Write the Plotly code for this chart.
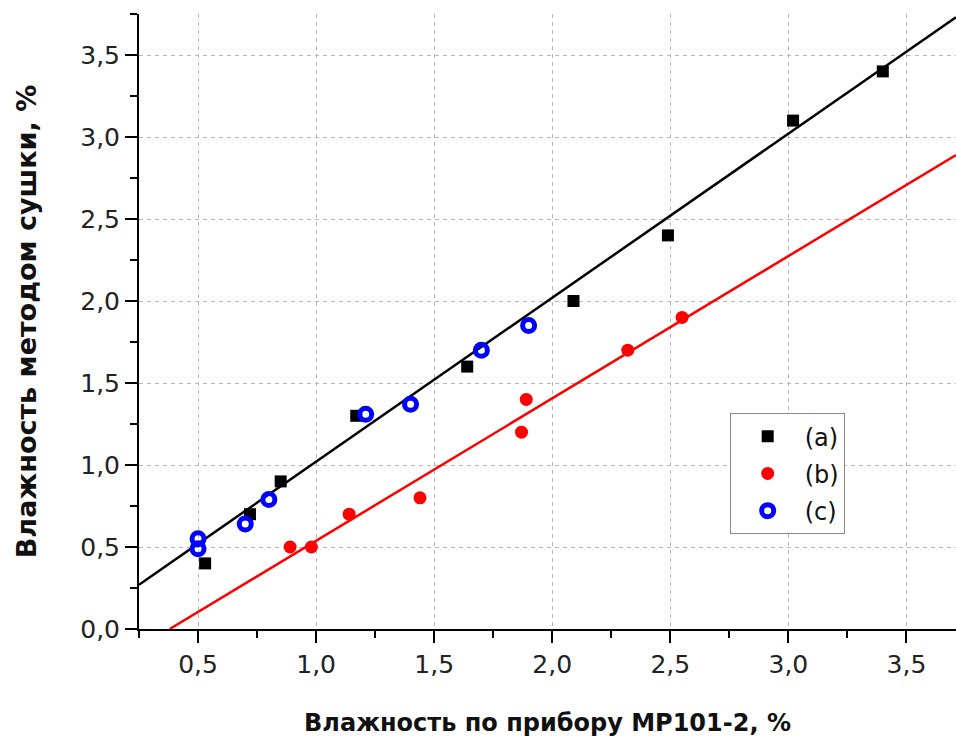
import plotly.graph_objects as go

# Series (a): black squares
a_x = [0.53, 0.72, 0.85, 1.17, 1.64, 2.09, 2.49, 3.02, 3.40]
a_y = [0.40, 0.70, 0.90, 1.30, 1.60, 2.00, 2.40, 3.10, 3.40]

# Series (b): red dots
b_x = [0.89, 0.98, 1.14, 1.44, 1.87, 1.89, 2.32, 2.55]
b_y = [0.50, 0.50, 0.70, 0.80, 1.20, 1.40, 1.70, 1.90]

# Series (c): blue open circles
c_x = [0.50, 0.50, 0.70, 0.80, 1.21, 1.40, 1.70, 1.90]
c_y = [0.55, 0.49, 0.64, 0.79, 1.31, 1.37, 1.70, 1.85]

# Fit lines (end points)
fit_a_x = [0.25, 3.71]
fit_a_y = [0.27, 3.73]
fit_b_x = [0.38, 3.71]
fit_b_y = [0.00, 2.89]

x_range = [0.25, 3.71]
y_range = [0.0, 3.75]

FONT = "DejaVu Sans, Arial, sans-serif"

fig = go.Figure()
fig.add_trace(go.Scatter(x=fit_a_x, y=fit_a_y, mode="lines",
                         line=dict(color="black", width=2.5), showlegend=False))
fig.add_trace(go.Scatter(x=fit_b_x, y=fit_b_y, mode="lines",
                         line=dict(color="#ff0000", width=2.5), showlegend=False))
fig.add_trace(go.Scatter(x=a_x, y=a_y, mode="markers", name="(a)", legendgroup="a",
                         marker=dict(symbol="square", size=12, color="black")))
fig.add_trace(go.Scatter(x=b_x, y=b_y, mode="markers", name="(b)", legendgroup="b",
                         marker=dict(symbol="circle", size=13, color="#ff0000")))
fig.add_trace(go.Scatter(x=c_x, y=c_y, mode="markers", name="(c)", legendgroup="c",
                         marker=dict(symbol="circle-open", size=12, color="#0000ff",
                                     line=dict(width=5, color="#0000ff"))))

axis_common = dict(
    showline=True, linecolor="black", linewidth=2,
    ticks="outside", ticklen=12, tickwidth=2, tickcolor="black",
    tickfont=dict(family=FONT, size=25, color="#222"),
    tickformat=".1f", dtick=0.5,
    showgrid=True, gridcolor="#b8b8b8", gridwidth=1, griddash="4px,4px",
    zeroline=False,
    minor=dict(ticks="outside", ticklen=7, tickwidth=2, tickcolor="black",
               dtick=0.25, showgrid=False),
)

fig.update_xaxes(range=x_range, tick0=0.5, **axis_common,
                 title=dict(text="<b>Влажность по прибору MP101-2, %</b>",
                            font=dict(family=FONT, size=24, color="#111"), standoff=36))
fig.update_yaxes(range=y_range, tick0=0.0, **axis_common,
                 title=dict(text="<b>Влажность методом сушки, %</b>",
                            font=dict(family=FONT, size=27, color="#111"), standoff=36))

fig.update_layout(
    width=956, height=742,
    margin=dict(l=139, r=0, t=14, b=113),
    plot_bgcolor="white", paper_bgcolor="white",
    separators=", ",
    legend=dict(x=0.723, y=0.351, xanchor="left", yanchor="top",
                bordercolor="#888", borderwidth=1, bgcolor="white",
                font=dict(family=FONT, size=24, color="#111"),
                itemwidth=64, tracegroupgap=3, traceorder="grouped"),
)

fig.write_html("out.html", config={"displayModeBar": False},
               post_script="document.body.style.margin='0';document.body.style.overflow='hidden';")
